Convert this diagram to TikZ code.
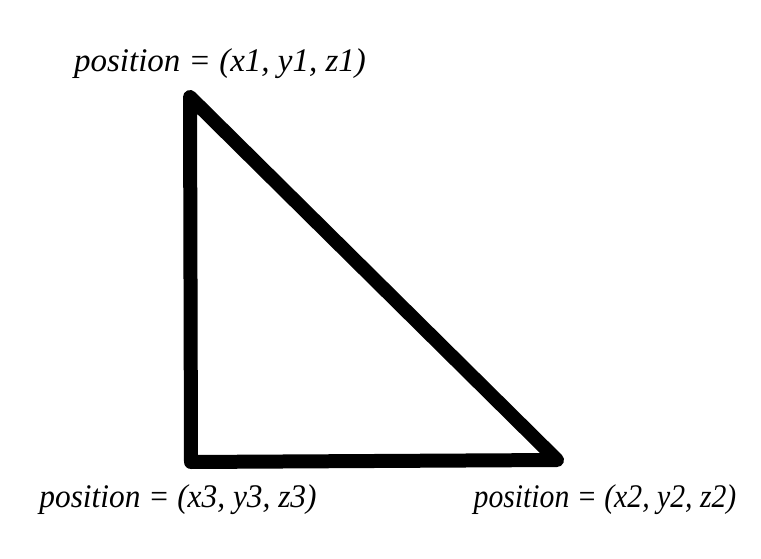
\documentclass[tikz,border=0pt]{standalone}
\usepackage{fontspec}
\setmainfont{Liberation Serif}
\begin{document}
\begin{tikzpicture}[x=1pt,y=-1pt,
  edge/.style={line width=14pt,line cap=round,line join=round,black},
  lbl/.style={font=\fontsize{33}{36}\selectfont\itshape,inner sep=0pt,anchor=base}]
\useasboundingbox (0,0) rectangle (761,559);
\coordinate (p1) at (190,97);
\coordinate (p2) at (557,460);
\coordinate (p3) at (191,462);
\draw[edge] (p1) -- (p2) -- (p3) -- cycle;
\node[lbl] (t1) at (220,72) {position = (x1, y1, z1)};
\node[lbl,xscale=0.95] (t3) at (178,507) {position = (x3, y3, z3)};
\node[lbl,xscale=0.9] (t2) at (605,507) {position = (x2, y2, z2)};
\end{tikzpicture}
\end{document}
